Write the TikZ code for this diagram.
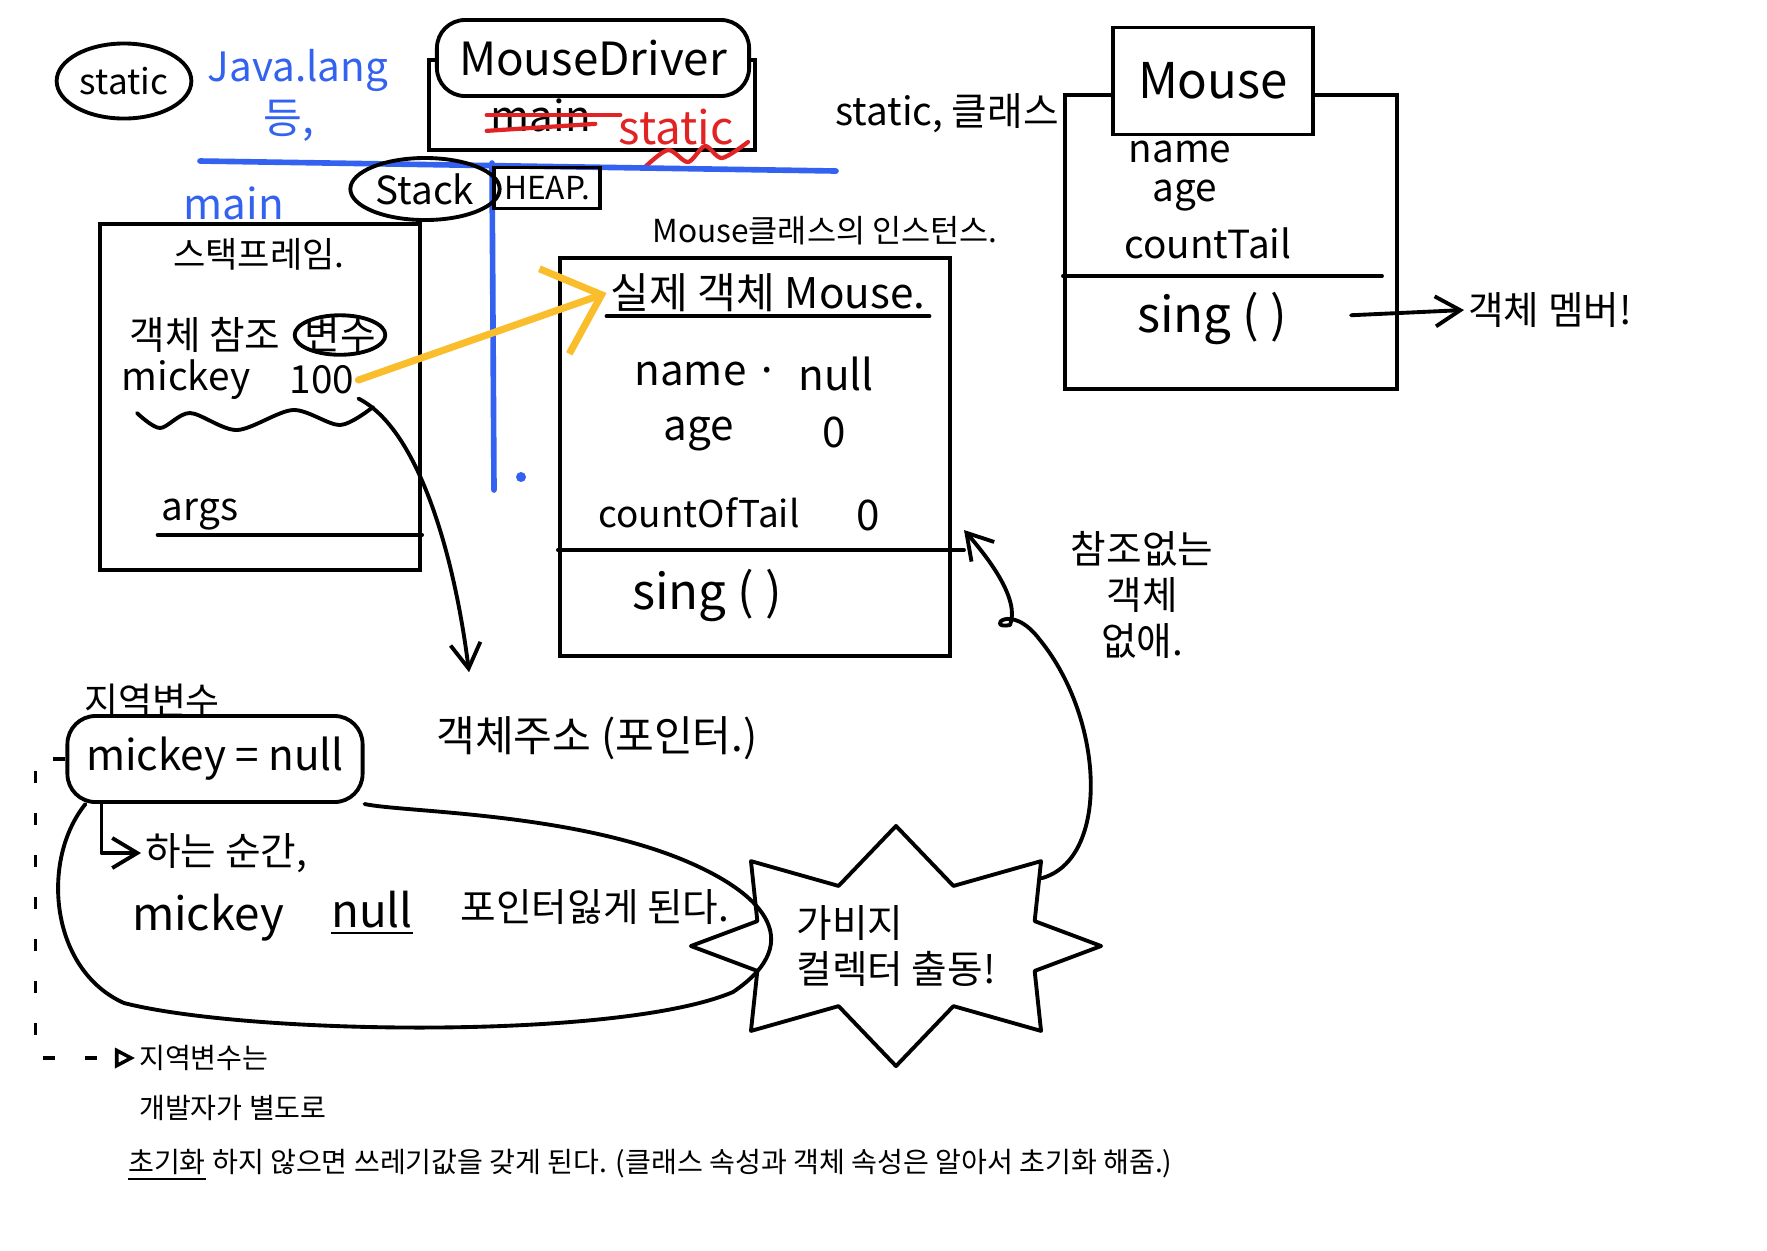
\documentclass[tikz,border=0pt]{standalone}
\usepackage{fontspec}
\setmainfont{Noto Sans CJK KR}
\usetikzlibrary{shapes.geometric, shapes.symbols, arrows.meta}

\definecolor{penblue}{RGB}{52,98,240}
\definecolor{penred}{RGB}{225,35,35}
\definecolor{penyellow}{RGB}{250,190,45}

\begin{document}
\begin{tikzpicture}[
        x=0.01cm, y=0.01cm,
        hand/.style={inner sep=1pt, font=\fontsize{11}{13}\selectfont},
        box/.style={rectangle, draw, line width=1.1pt},
        pen/.style={line width=1.1pt, line cap=round, line join=round},
        arrow/.style={->, >={Straight Barb[length=2.5mm, width=3mm]}, pen},
        yarrow/.style={->, >={Straight Barb[length=5mm, width=9mm]}, draw=penyellow, line width=2pt, line cap=round},
        dotarrow/.style={-{Triangle[open, length=2mm, width=2mm]}, line width=1pt, dash pattern=on 1.2mm off 3mm},
        blueline/.style={draw=penblue, line width=1.6pt, line cap=round},
        redline/.style={draw=penred, line width=1.2pt, line cap=round}
    ]
    \path[use as bounding box, fill=white] (0,0) rectangle (1767,-1250);

    % Top left
    \node[hand, ellipse, draw, pen, font=\fontsize{10}{12}\selectfont, minimum width=1.05cm, minimum height=0.75cm] (staticL) at (124,-81) {static};
    \node[hand, text=penblue, font=\fontsize{11.5}{14}\selectfont] (javaL) at (298,-70) {Java.lang};
    \node[hand, text=penblue, font=\fontsize{12}{14}\selectfont] (etcL) at (289,-121) {등,};

    % MouseDriver
    \node[box, minimum width=3.25cm, minimum height=0.9cm] (drvBody) at (592,-105) {};
    \node[box, rounded corners=8pt, fill=white, hand, font=\fontsize{13}{15}\selectfont, minimum width=3.12cm, minimum height=0.76cm] (drvT) at (593,-58) {MouseDriver};
    \node[hand, font=\fontsize{12}{14}\selectfont] (mainD) at (541,-115) {main};
    \node[hand, text=penred, font=\fontsize{13}{15}\selectfont] (staticD) at (676,-127) {static};
    \draw[redline] (mainD.west) -- ([xshift=0.25cm]mainD.east);
    \draw[redline] ([yshift=0.05cm]mainD.south west) -- ([yshift=0.12cm]mainD.south east);
    \draw[redline] plot[smooth] coordinates {(645,-167) (668,-150) (688,-162) (705,-146) (722,-158) (748,-142)};

    % Stack | Heap
    \draw[blueline] (200,-161) -- (836,-171);
    \draw[blueline] (492,-163) -- (494,-490);
    \fill[penblue] (521,-477) circle (0.05cm);
    \node[hand, ellipse, draw, pen, minimum width=1.41cm, minimum height=0.62cm] (stackL) at (425,-189) {Stack};
    \node[box, hand, font=\fontsize{9}{11}\selectfont, minimum width=1.06cm, minimum height=0.41cm] (heapL) at (547,-188) {HEAP.};

    % Stack frame
    \node[hand, text=penblue, font=\fontsize{12}{14}\selectfont] (mainS) at (234,-203) {main};
    \node[box, minimum width=3.2cm, minimum height=3.45cm] (frame) at (260,-397) {};
    \node[hand, font=\fontsize{10}{12}\selectfont] (sframe) at (259,-254) {스택프레임.};
    \node[hand] (refL) at (205,-335) {객체 참조};
    \node[hand, ellipse, draw, pen, inner sep=-1pt] (varL) at (340,-335) {변수};
    \node[hand] (mickeyS) at (186,-380) {mickey};
    \node[hand] (hundred) at (322,-380) {100};
    \draw[pen] plot[smooth] coordinates {(137,-413) (160,-428) (190,-413) (237,-430) (293,-410) (340,-425) (373,-407)};
    \node[hand] (argsL) at (200,-515) {args};
    \draw[pen] (argsL.south west) -- (argsL.south west -| frame.east);

    % Instance
    \node[hand, font=\fontsize{9}{11}\selectfont] (instT) at (825,-231) {Mouse클래스의 인스턴스.};
    \node[box, minimum width=3.9cm, minimum height=3.97cm] (inst) at (755,-457) {};
    \node[hand, font=\fontsize{12}{14}\selectfont] (objT) at (768,-293) {실제 객체 Mouse.};
    \draw[pen] (objT.south west) -- (objT.south east);
    \node[hand, font=\fontsize{12}{14}\selectfont] (nameF) at (707,-374) {name ·};
    \node[hand, font=\fontsize{12}{14}\selectfont] (nameV) at (836,-374) {null};
    \node[hand, font=\fontsize{12}{14}\selectfont] (ageF) at (699,-434) {age};
    \node[hand, font=\fontsize{12}{14}\selectfont] (ageV) at (834,-432) {0};
    \node[hand, font=\fontsize{10.5}{12}\selectfont] (tailF) at (699,-513) {countOfTail};
    \node[hand, font=\fontsize{12}{14}\selectfont] (tailV) at (868,-515) {0};
    \coordinate (gcEnd) at (964,-530);
    \coordinate (sepI) at (0,-550);
    \draw[pen] (inst.west |- sepI) -- (gcEnd |- sepI);
    \node[hand, font=\fontsize{14}{16}\selectfont] (singI) at (707,-595) {sing ( )};
    \draw[yarrow] (hundred.east) -- (objT.west);

    % Mouse class
    \node[hand] (staticCls) at (947,-113) {static, 클래스};
    \node[box, minimum width=3.32cm, minimum height=2.94cm] (cls) at (1231,-242) {};
    \node[box, fill=white, hand, font=\fontsize{14}{16}\selectfont, minimum width=2cm, minimum height=1.07cm] (clsT) at (1213,-81) {Mouse};
    \node[hand] (clsName) at (1180,-152) {name};
    \node[hand] (clsAge) at (1185,-196) {age};
    \node[hand] (clsCount) at (1208,-243) {countTail};
    \coordinate (sepC) at (0,-276);
    \draw[pen] (cls.west |- sepC) -- ++(319,0);
    \node[hand, font=\fontsize{14}{16}\selectfont] (clsSing) at (1212,-318) {sing ( )};
    \node[hand] (memberL) at (1550,-310) {객체 멤버!};
    \draw[arrow, shorten <=0.6cm] (clsSing.east) -- (memberL.west);

    % Address
    \node[hand, font=\fontsize{12}{14}\selectfont] (addr) at (597,-738) {객체주소 (포인터.)};
    \draw[arrow] (hundred.south east) .. controls (420,-430) and (455,-560) .. ([shift={(37,40)}]addr.north west);

    % Local variable
    \node[hand, font=\fontsize{10.5}{12}\selectfont] (localL) at (152,-701) {지역변수};
    \node[box, rounded corners=8pt, hand, font=\fontsize{12}{14}\selectfont, minimum width=2.95cm, minimum height=0.86cm] (mnull) at (215,-759) {mickey = null};
    \node[hand, anchor=west] (moment) at (141,-853) {하는 순간,};
    \draw[arrow] ([xshift=0.36cm]mnull.south west) |- (moment.west);
    \node[hand, font=\fontsize{13}{15}\selectfont] (mickeyB) at (208,-918) {mickey};
    \node[hand, font=\fontsize{13}{15}\selectfont] (nullB) at (372,-913) {\underline{null}};
    \node[hand] (lose) at (595,-907) {포인터잃게 된다.};
    \draw[pen] (mnull.south east) .. controls (400,-812) and (560,-812) .. (676,-857)
        .. controls (760,-890) and (810,-940) .. (733,-992)
        .. controls (620,-1040) and (250,-1035) .. (124,-1003)
        .. controls (50,-970) and (40,-860) .. ([xshift=0.2cm]mnull.south west);

    % Garbage collector
    \node[starburst, draw, pen, starburst points=8, starburst point height=0.55cm, random starburst=0, minimum width=4.1cm, minimum height=2.4cm, align=left, hand] (gc) at (896,-946) {가비지\\컬렉터 출동!};
    \draw[arrow] (gc.25) .. controls (1110,-860) and (1105,-720) .. (1040,-640)
        .. controls (1010,-600) and (985,-630) .. (1010,-625)
        .. controls (1020,-600) and (990,-560) .. (gcEnd);
    \node[hand, align=center] (noRef) at (1142,-595) {참조없는\\객체\\없애.};

    % Note
    \node[hand, anchor=west, font=\fontsize{8}{9}\selectfont] (localA) at (135,-1058) {지역변수는};
    \node[hand, anchor=west, font=\fontsize{8}{9}\selectfont] (localB) at (135,-1108) {개발자가 별도로};
    \node[hand, anchor=west, font=\fontsize{8}{9}\selectfont] (localC) at (124,-1165) {\underline{초기화} 하지 않으면 쓰레기값을 갖게 된다. (클래스 속성과 객체 속성은 알아서 초기화 해줌.)};
    \draw[dotarrow] (mnull.west) -- ++(-30,0) |- (localA.west);

    \end{tikzpicture}
\end{document}
